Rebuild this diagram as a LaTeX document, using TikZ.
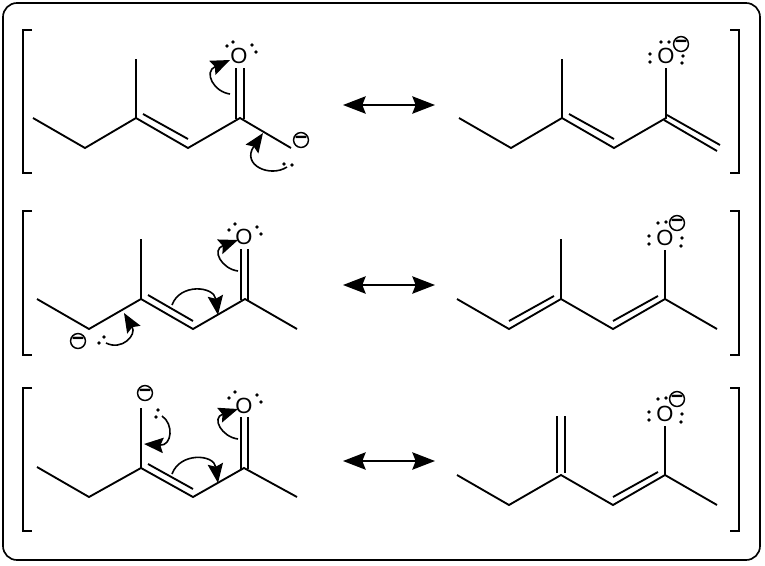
\documentclass[tikz,border=0pt]{standalone}
\usepackage{fontspec}
\setmainfont{Liberation Sans}
\usetikzlibrary{arrows.meta,calc}
\tikzset{
  x=0.75pt,y=-0.75pt,
  bond/.style={line width=1.4pt,line cap=butt,line join=miter},
  atom/.style={font=\fontsize{16.5pt}{17pt}\selectfont,inner sep=0pt,text=black},
  charge/.style={circle,draw,line width=1.1pt,minimum size=10.8pt,inner sep=0pt,font=\bfseries\fontsize{16pt}{16pt}\selectfont},
  lp/.style={circle,fill=black,inner sep=0pt,minimum size=2.9pt},
  push/.style={line width=1.2pt,-{Stealth[length=14.5pt,width=11.5pt,inset=2.2pt]}},
  react/.style={line width=1.4pt,{Stealth[length=17pt,width=13pt,inset=2.5pt]}-{Stealth[length=17pt,width=13pt,inset=2.5pt]}},
  brk/.style={line width=1.4pt},
  frame/.style={line width=1.25pt,rounded corners=10.5pt}
}
\newcommand{\Dots}[1]{\foreach \px/\py in {#1}{\node[lp] at (\px,\py) {};}}
\begin{document}
\begin{tikzpicture}
\useasboundingbox (0,0) rectangle (765,565);
\draw[frame] (3,3) rectangle (760,560);
% brackets
\foreach \a/\b in {30/173,211/355,388/531}{
  \draw[brk] (32,\a) -- (23,\a) -- (23,\b) -- (32,\b);
  \draw[brk] (730,\a) -- (739,\a) -- (739,\b) -- (730,\b);
}
% reaction arrows
\foreach \r/\y in {a/105,b/285,c/461}{
  \coordinate (L\r) at (343,\y); \coordinate (R\r) at (435,\y);
  \draw[react] (L\r) -- (R\r);
}
% ---------- row 1 left
\coordinate (a1) at (33,118); \coordinate (a2) at (85,148); \coordinate (a3) at (136,118);
\coordinate (a4) at (188,148); \coordinate (a5) at (240,118); \coordinate (a6) at (291,148);
\coordinate (a7) at (136,59);
\node[atom] (aO) at (239,56) {O};
\node[charge] (aQ) at (301,140) {−};
\draw[bond] (a1)--(a2)--(a3)--(a4)--(a5)--(a6);
\draw[bond] (a3)--(a7);
\draw[bond] ([shift={(7,-4)}]a3)--([shift={(0,-9)}]a4);
\draw[bond] (236,119)--(236,68) (244,119)--(244,68);
\Dots{227/46,233/42,252/45,256/52,284/164,292/165}
\coordinate (as) at (230,94); \coordinate (at) at (230,60);
\draw[push] (as) .. controls (214,92) and (203,72) .. (at);
\coordinate (bs) at (287,167); \coordinate (bt) at (263,133);
\draw[push] (bs) .. controls (270,178) and (241,165) .. (bt);
% ---------- row 1 right
\coordinate (d1) at (459,118); \coordinate (d2) at (511,148); \coordinate (d3) at (562,118);
\coordinate (d4) at (614,148); \coordinate (d5) at (666,118); \coordinate (d7) at (562,59);
\node[atom] (dO) at (666,56) {O};
\node[charge] (dQ) at (681,44) {−};
\draw[bond] (d1)--(d2)--(d3)--(d4)--(d5)--(666,68);
\draw[bond] (d3)--(d7);
\draw[bond] ([shift={(7,-4)}]d3)--([shift={(0,-9)}]d4);
\draw[bond] (664,120)--(717,151) (667,115)--(720,145);
\Dots{661/42,669/42,650/54,650/62,683/56,682/63}
% ---------- row 2 left
\coordinate (b1) at (37,299); \coordinate (b2) at (89,329); \coordinate (b3) at (141,299);
\coordinate (b4) at (193,329); \coordinate (b5) at (245,299); \coordinate (b6) at (297,329);
\coordinate (b7) at (141,239);
\node[atom] (bO) at (244,237) {O};
\node[charge] (bQ) at (78,341) {−};
\draw[bond] (b1)--(b2)--(b3)--(b4)--(b5)--(b6);
\draw[bond] (b3)--(b7);
\draw[bond] ([shift={(7,-4)}]b3)--([shift={(0,-8)}]b4);
\draw[bond] (241,300)--(241,249) (248,300)--(248,249);
\Dots{229/230,235/224,257/227,261/234,99/343,104/337}
\coordinate (cs) at (238,271); \coordinate (ct) at (238,240);
\draw[push] (cs) .. controls (222,269) and (211,250) .. (ct);
\coordinate (ds) at (172,305); \coordinate (dt) at (218,315);
\draw[push] (ds) .. controls (180,283) and (214,286) .. (dt);
\coordinate (es) at (106,343); \coordinate (et) at (124,313);
\draw[push] (es) .. controls (122,351) and (137,335) .. (et);
% ---------- row 2 right
\coordinate (e1) at (457,299); \coordinate (e2) at (509,329); \coordinate (e3) at (561,299);
\coordinate (e4) at (613,329); \coordinate (e5) at (665,299); \coordinate (e6) at (717,329);
\coordinate (e7) at (561,239);
\node[atom] (eO) at (665,238) {O};
\node[charge] (eQ) at (677,223) {−};
\draw[bond] (e1)--(e2)--(e3)--(e4)--(e5)--(e6);
\draw[bond] (e3)--(e7);
\draw[bond] (e5)--(665,250);
\draw[bond] ([shift={(0,-8)}]e2)--([shift={(-7,-3)}]e3);
\draw[bond] ([shift={(0,-8)}]e4)--([shift={(-7,-3)}]e5);
\Dots{658/223,666/222,649/236,649/244,682/238,681/246}
% ---------- row 3 left
\coordinate (c1) at (37,467); \coordinate (c2) at (89,497); \coordinate (c3) at (141,468);
\coordinate (c4) at (193,497); \coordinate (c5) at (244,468); \coordinate (c6) at (297,497);
\coordinate (c7) at (141,408);
\node[atom] (cO) at (244,406) {O};
\node[charge] (cQ) at (145,393) {−};
\draw[bond] (c1)--(c2)--(c3)--(c4)--(c5)--(c6);
\draw[bond] (c3)--(c7);
\draw[bond] ([shift={(7,-4)}]c3)--([shift={(0,-8)}]c4);
\draw[bond] (241,469)--(241,417) (248,469)--(248,417);
\Dots{229/398,235/392,257/395,261/402,158/410,156/417}
\coordinate (fs) at (238,439); \coordinate (ft) at (238,409);
\draw[push] (fs) .. controls (222,437) and (211,418) .. (ft);
\coordinate (gs) at (172,474); \coordinate (gt) at (218,483);
\draw[push] (gs) .. controls (180,452) and (214,454) .. (gt);
\coordinate (hs) at (162,416); \coordinate (ht) at (144,444);
\draw[push] (hs) .. controls (174,424) and (172,446) .. (ht);
% ---------- row 3 right
\coordinate (f1) at (457,475); \coordinate (f2) at (509,505); \coordinate (f3) at (561,475);
\coordinate (f4) at (613,505); \coordinate (f5) at (665,475); \coordinate (f6) at (717,505);
\node[atom] (fO) at (665,414) {O};
\node[charge] (fQ) at (677,399) {−};
\draw[bond] (f1)--(f2)--(f3)--(f4)--(f5)--(f6);
\draw[bond] (f5)--(665,426);
\draw[bond] (557,473)--(557,416) (565,473)--(565,416);
\draw[bond] ([shift={(0,-8)}]f4)--([shift={(-7,-3)}]f5);
\Dots{658/399,666/398,649/412,649/420,682/414,681/422}
\end{tikzpicture}
\end{document}
